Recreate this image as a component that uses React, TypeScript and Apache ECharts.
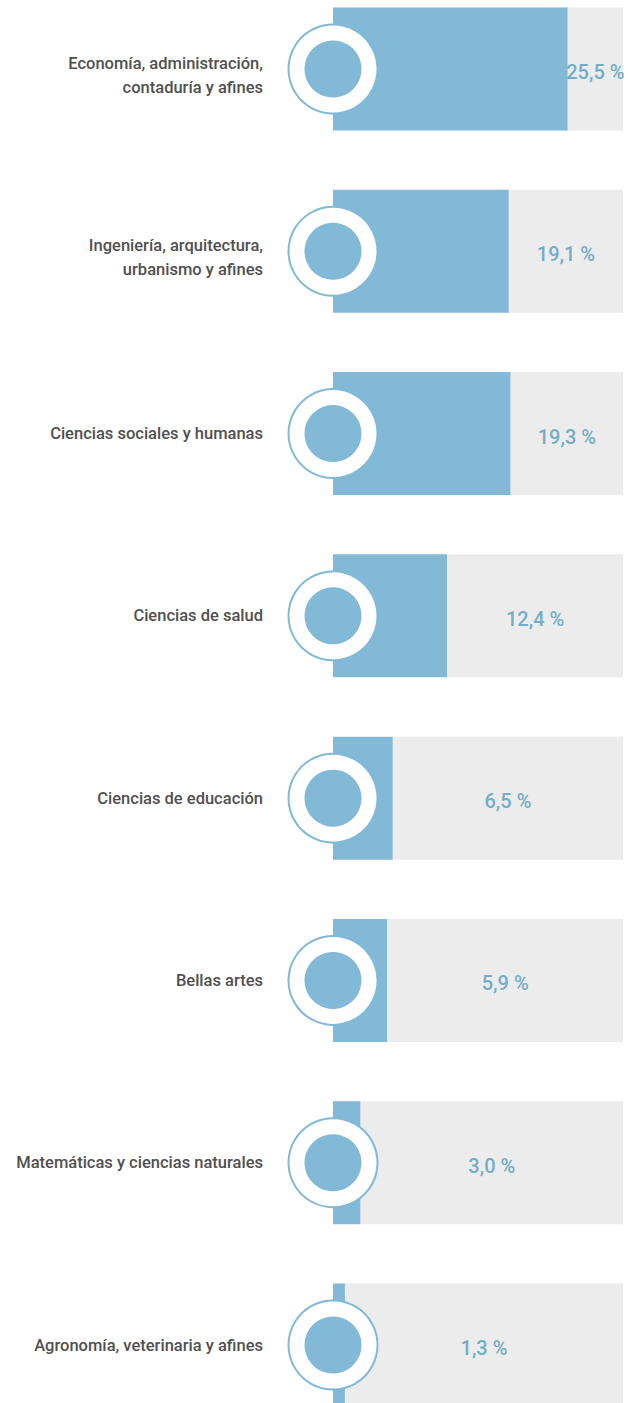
import React, { useEffect, useRef } from "react";
import * as echarts from "echarts";

const categories = [
  "Economía, administración,\ncontaduría y afines",
  "Ingeniería, arquitectura,\nurbanismo y afines",
  "Ciencias sociales y humanas",
  "Ciencias de salud",
  "Ciencias de educación",
  "Bellas artes",
  "Matemáticas y ciencias naturales",
  "Agronomía, veterinaria y afines",
];
const values = [25.5, 19.1, 19.3, 12.4, 6.5, 5.9, 3.0, 1.3];
const axisMax = 31.5;

const BLUE = "#82b9d6";
const GRAY = "#ececec";
const LABEL_BLUE = "#74adc8";
const TEXT = "#505050";

export default function App() {
  const ref = useRef<HTMLDivElement>(null);
  useEffect(() => {
    if (!ref.current) return;
    const chart = echarts.init(ref.current, undefined, { renderer: "svg" });
    const fmt = (v: number) => v.toFixed(1).replace(".", ",") + " %";
    chart.setOption({
      animation: false,
      grid: { left: 333, right: 5, top: 69, bottom: 58, containLabel: false },
      xAxis: {
        type: "value",
        min: 0,
        max: axisMax,
        show: false,
      },
      yAxis: {
        type: "category",
        data: categories,
        inverse: true,
        boundaryGap: false,
        axisLine: { show: false },
        axisTick: { show: false },
        splitLine: { show: false },
        axisLabel: {
          margin: 70,
          color: TEXT,
          fontFamily: "Roboto",
          fontWeight: 500,
          fontSize: 16.5,
          lineHeight: 24,
          align: "right",
          formatter: (v: string) =>
            v.includes("\n")
              ? "{s| }\n" + v.split("\n").map((l) => `{t|${l}}`).join("\n")
              : v,
          rich: {
            s: { fontSize: 1, lineHeight: 12 },
            t: {
              color: TEXT,
              fontFamily: "Roboto",
              fontWeight: 500,
              fontSize: 16.5,
              lineHeight: 24,
              align: "right",
            },
          },
        },
      },
      series: [
        {
          type: "bar",
          stack: "a",
          barWidth: 123,
          data: values,
          itemStyle: { color: BLUE },
          z: 2,
        },
        {
          type: "bar",
          stack: "a",
          barWidth: 123,
          data: values.map((v) => axisMax - v),
          itemStyle: { color: GRAY },
          z: 2,
          label: {
            show: true,
            position: "inside",
            offset: [0, 3],
            formatter: (p: any) => fmt(values[p.dataIndex]),
            color: LABEL_BLUE,
            fontFamily: "Roboto",
            fontWeight: 500,
            fontSize: 20,
          },
        },
        {
          type: "scatter",
          clip: false,
          symbol: "circle",
          symbolSize: 89,
          data: values.map((_, i) => [0, i]),
          itemStyle: { color: "#ffffff", borderColor: BLUE, borderWidth: 2, opacity: 1 },
          z: 5,
          silent: true,
        },
        {
          type: "scatter",
          clip: false,
          symbol: "circle",
          symbolSize: 57,
          data: values.map((_, i) => [0, i]),
          itemStyle: { color: BLUE, opacity: 1 },
          z: 6,
          silent: true,
        },
      ],
    });
    return () => chart.dispose();
  }, []);
  return (
    <div
      ref={ref}
      style={{ position: "absolute", left: 0, top: 0, width: 628, height: 1403 }}
    />
  );
}
